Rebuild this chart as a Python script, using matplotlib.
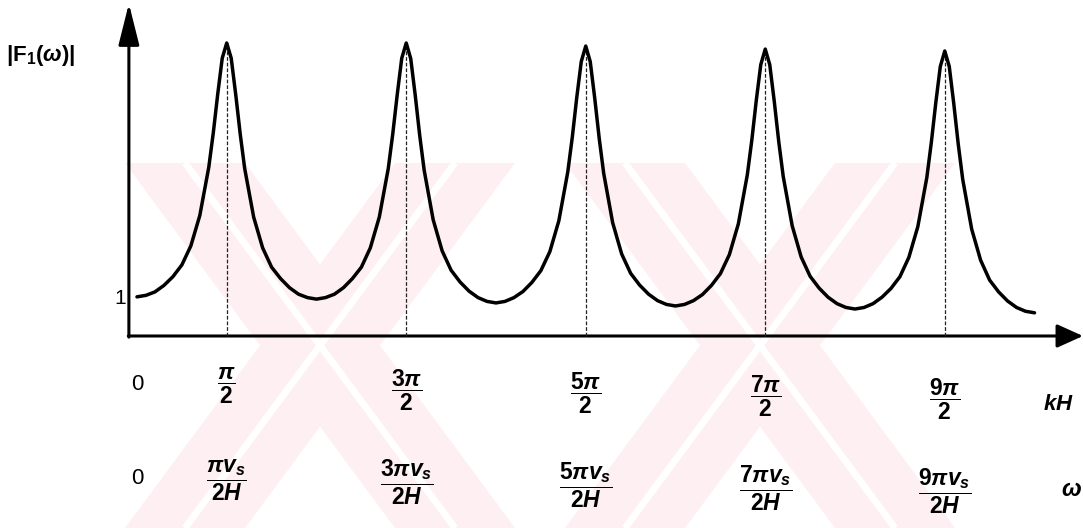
import numpy as np
import matplotlib
matplotlib.use("Agg")
import matplotlib.pyplot as plt
from matplotlib.patches import Polygon
from matplotlib.transforms import blended_transform_factory

# peak positions in multiples of pi/2, and positions inside one lobe (same units)
peak_units = [1, 3, 5, 7, 9]
offsets = [-1.0, -0.9, -0.8, -0.7, -0.6, -0.5, -0.4, -0.3, -0.2, -0.15, -0.1, -0.05, 0.0,
           0.05, 0.1, 0.15, 0.2, 0.3, 0.4, 0.5, 0.6, 0.7, 0.8, 0.9, 1.0]

# |F1(w)|, one list per resonance lobe
lobe1 = [1.03, 1.07, 1.16, 1.33, 1.56, 1.87, 2.37, 3.17, 4.44, 5.34, 6.37, 7.31, 7.71,
         7.31, 6.36, 5.32, 4.41, 3.13, 2.32, 1.81, 1.51, 1.27, 1.10, 1.01, 0.97]
lobe2 = [0.97, 1.01, 1.10, 1.27, 1.51, 1.81, 2.32, 3.13, 4.41, 5.32, 6.36, 7.31, 7.71,
         7.30, 6.34, 5.28, 4.36, 3.06, 2.24, 1.73, 1.42, 1.18, 1.01, 0.91, 0.87]
lobe3 = [0.87, 0.91, 1.01, 1.17, 1.41, 1.72, 2.22, 3.03, 4.32, 5.23, 6.28, 7.22, 7.63,
         7.22, 6.26, 5.20, 4.28, 2.98, 2.16, 1.65, 1.34, 1.10, 0.93, 0.83, 0.79]
lobe4 = [0.79, 0.83, 0.93, 1.09, 1.33, 1.64, 2.14, 2.95, 4.24, 5.15, 6.20, 7.14, 7.55,
         7.14, 6.18, 5.12, 4.20, 2.90, 2.08, 1.57, 1.26, 1.02, 0.85, 0.75, 0.71]
lobe5 = [0.71, 0.75, 0.85, 1.02, 1.25, 1.56, 2.07, 2.88, 4.17, 5.09, 6.14, 7.09, 7.50,
         7.09, 6.12, 5.05, 4.12, 2.81, 1.99, 1.47, 1.16, 0.92, 0.75, 0.65, 0.61]
lobes = [lobe1, lobe2, lobe3, lobe4, lobe5]

kh_labels = [r'$\dfrac{\pi}{2}$', r'$\dfrac{3\pi}{2}$', r'$\dfrac{5\pi}{2}$',
             r'$\dfrac{7\pi}{2}$', r'$\dfrac{9\pi}{2}$']
omega_labels = [r'$\dfrac{\pi v_s}{2H}$', r'$\dfrac{3\pi v_s}{2H}$', r'$\dfrac{5\pi v_s}{2H}$',
                r'$\dfrac{7\pi v_s}{2H}$', r'$\dfrac{9\pi v_s}{2H}$']

plt.rcParams['mathtext.fontset'] = 'custom'
plt.rcParams['mathtext.rm'] = 'Liberation Sans:bold'
plt.rcParams['mathtext.it'] = 'Liberation Sans:italic:bold'
plt.rcParams['mathtext.bf'] = 'Liberation Sans:bold'
plt.rcParams['mathtext.sf'] = 'Liberation Sans:bold'
plt.rcParams['font.family'] = ['Liberation Sans', 'DejaVu Sans']

fig = plt.figure(figsize=(10.83, 5.28), dpi=100)

# background layer in pixel units (faint watermark + labels)
bg = fig.add_axes([0, 0, 1, 1])
bg.set_xlim(0, 1083)
bg.set_ylim(528, 0)
bg.axis('off')

pink = '#fdeff2'
for cx in (320, 760):
    for sign in (1, -1):
        x_top, x_bot = cx - sign * 135, cx + sign * 135
        band = Polygon([(x_top - 60, 163), (x_top + 60, 163), (x_bot + 60, 528), (x_bot - 60, 528)],
                       closed=True, facecolor=pink, edgecolor='none', zorder=0)
        bg.add_patch(band)
    for sign in (1, -1):
        x_top, x_bot = cx - sign * 135, cx + sign * 135
        bg.plot([x_top, x_bot], [163, 528], color='white', lw=5, solid_capstyle='butt', zorder=1)

# main plot layer
half_pi = np.pi / 2
ax = fig.add_axes([0, 0, 1, 1])
ax.patch.set_alpha(0)
ax.axis('off')
ax.set_xlim(-1.526 * half_pi, 10.54 * half_pi)
ax.set_ylim(-5.053, 8.842)

xs, ys = [], []
for i, (p, vals) in enumerate(zip(peak_units, lobes)):
    start = 0 if i == 0 else 1
    xs += [(p + o) * half_pi for o in offsets[start:]]
    ys += vals[start:]
ax.plot(xs, ys, color='black', lw=2.5, solid_joinstyle='round', solid_capstyle='round', zorder=5)

# dotted guide lines under the peaks
for p, vals in zip(peak_units, lobes):
    ax.plot([p * half_pi, p * half_pi], [0, max(vals)], color='#222222', lw=0.9,
            linestyle=(0, (3, 1.5)), zorder=4)

# axes with arrows
axis_x = -0.09 * half_pi
ax.annotate('', xy=(axis_x, 8.75), xytext=(axis_x, -0.03),
            arrowprops=dict(arrowstyle='-|>,head_length=1.6,head_width=0.4', lw=2.2,
                            color='black', shrinkA=0, shrinkB=0, mutation_scale=16))
ax.annotate('', xy=(10.54 * half_pi, 0), xytext=(axis_x - 0.01, 0),
            arrowprops=dict(arrowstyle='-|>,head_length=1.0,head_width=0.45', lw=2.2,
                            color='black', shrinkA=0, shrinkB=0, mutation_scale=16))

# labels: x from data, y in pixels
tr = blended_transform_factory(ax.transData, bg.transData)
row1_y = [386, 390, 393, 396, 399]
row2_y = [480, 482, 485, 488, 491]
for p, lab, y in zip(peak_units, kh_labels, row1_y):
    ax.text(p * half_pi, y, lab, transform=tr, ha='center', va='center', fontsize=16.5)
for p, lab, y in zip(peak_units, omega_labels, row2_y):
    ax.text(p * half_pi, y, lab, transform=tr, ha='center', va='center', fontsize=16.5)
ax.text(0, 385, '0', transform=tr, ha='center', va='center', fontsize=16)
ax.text(0, 478, '0', transform=tr, ha='center', va='center', fontsize=16)

bg.text(1058, 404, r'$kH$', ha='center', va='center', fontsize=16)
bg.text(1071, 490, r'$\omega$', ha='center', va='center', fontsize=17)
bg.text(126, 298, '1', ha='right', va='center', fontsize=15)
bg.text(6, 56, r'$|\mathrm{F}_{1}(\omega)|$', ha='left', va='center', fontsize=16)

fig.savefig('out.png', dpi=100, facecolor='white')
